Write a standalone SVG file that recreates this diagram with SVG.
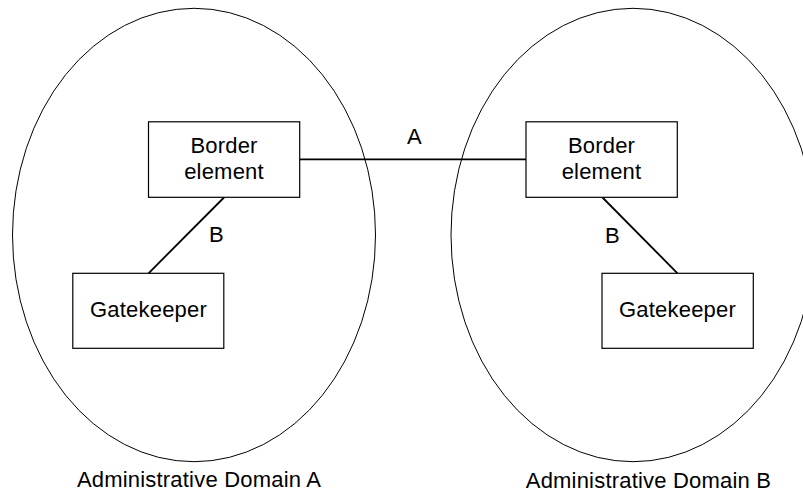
<svg xmlns="http://www.w3.org/2000/svg" width="803" height="496" viewBox="0 0 803 496">
<style>
.dom{fill:none;stroke:#000;stroke-width:1}
.box{fill:#fff;stroke:#000;stroke-width:1.2}
.conn{stroke:#000;stroke-width:1.8;fill:none}
text{font-family:"Liberation Sans",Arial,sans-serif;font-size:22px;letter-spacing:0.2px;fill:#000}
.c{text-anchor:middle}
</style>
<rect width="803" height="496" fill="#fff"/>
<g id="domainA">
<ellipse class="dom" cx="194" cy="235" rx="181.5" ry="226.7"/>
<text class="c" x="199" y="487">Administrative Domain A</text>
</g>
<g id="domainB">
<ellipse class="dom" cx="633" cy="235" rx="182" ry="226.7"/>
<text class="c" x="648.5" y="488">Administrative Domain B</text>
</g>
<g id="connectors">
<line class="conn" x1="300" y1="159.3" x2="526" y2="159.3"/>
<line class="conn" x1="224" y1="197.5" x2="148.5" y2="273.3"/>
<line class="conn" x1="602.5" y1="197.5" x2="677.5" y2="273.3"/>
<text x="407" y="144">A</text>
<text x="209" y="241.5">B</text>
<text x="605" y="243">B</text>
</g>
<g id="borderA">
<rect class="box" x="148.5" y="121.8" width="151.2" height="75.5"/>
<text class="c" x="224" y="153">Border</text>
<text class="c" x="224" y="179">element</text>
</g>
<g id="gatekeeperA">
<rect class="box" x="72.8" y="273.3" width="151" height="75"/>
<text class="c" x="148.5" y="316.5">Gatekeeper</text>
</g>
<g id="borderB">
<rect class="box" x="526" y="121.8" width="151.3" height="75.5"/>
<text class="c" x="601.5" y="153">Border</text>
<text class="c" x="601.5" y="179">element</text>
</g>
<g id="gatekeeperB">
<rect class="box" x="602" y="273.3" width="151.3" height="75"/>
<text class="c" x="677.5" y="316.5">Gatekeeper</text>
</g>
</svg>
